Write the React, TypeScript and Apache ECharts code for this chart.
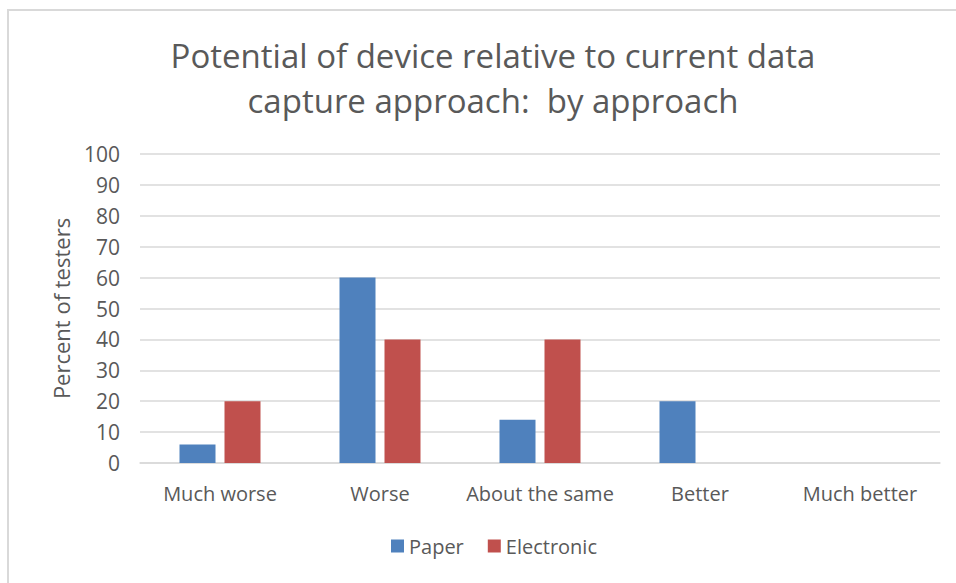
import React, { useEffect, useRef } from "react";
import * as echarts from "echarts";

const categories = ["Much worse", "Worse", "About the same", "Better", "Much better"];
const paper = [6, 60, 14, 20, 0];
const electronic = [20, 40, 40, 0, 0];
const titleText = "Potential of device relative to current data\ncapture approach:  by approach";
const yAxisName = "Percent of testers";

export default function App() {
  const ref = useRef<HTMLDivElement>(null);
  useEffect(() => {
    const chart = echarts.init(ref.current!, null, { renderer: "svg" });
    const font = "'Open Sans', 'Noto Sans', sans-serif";
    chart.setOption({
      animation: false,
      backgroundColor: "#ffffff",
      textStyle: { fontFamily: font },
      title: {
        text: titleText,
        left: 488,
        textAlign: "center",
        top: 28,
        textStyle: { fontFamily: font, fontSize: 33, fontWeight: "normal", color: "#595959", lineHeight: 45 },
      },
      legend: {
        bottom: 22,
        left: 386,
        itemWidth: 13,
        itemHeight: 13,
        itemGap: 24,
        icon: "rect",
        textStyle: { fontFamily: font, fontSize: 20, color: "#595959" },
        data: ["Paper", "Electronic"],
      },
      grid: { left: 140, right: 16, top: 154, bottom: 120, containLabel: false },
      xAxis: {
        type: "category",
        data: categories,
        axisLine: { lineStyle: { color: "#d9d9d9", width: 1.5 } },
        axisTick: { show: false },
        axisLabel: { fontFamily: font, fontSize: 20, color: "#595959", margin: 20, interval: 0 },
      },
      yAxis: {
        type: "value",
        min: 0,
        max: 100,
        interval: 10,
        name: yAxisName,
        nameLocation: "middle",
        nameGap: 68,
        nameTextStyle: { fontFamily: font, fontSize: 22, color: "#595959" },
        axisLine: { show: false },
        axisTick: { show: false },
        axisLabel: { fontFamily: font, fontSize: 21, color: "#595959", margin: 20 },
        splitLine: { lineStyle: { color: "#d9d9d9", width: 1.5 } },
      },
      series: [
        {
          name: "Paper",
          type: "bar",
          data: paper,
          barWidth: 36,
          barGap: "25%",
          itemStyle: { color: "#4F81BD" },
        },
        {
          name: "Electronic",
          type: "bar",
          data: electronic,
          barWidth: 36,
          itemStyle: { color: "#C0504D" },
        },
      ],
      graphic: [
        { type: "line", shape: { x1: 7, y1: 10, x2: 956, y2: 10 }, style: { stroke: "#d9d9d9", lineWidth: 2 } },
        { type: "line", shape: { x1: 8, y1: 10, x2: 8, y2: 583 }, style: { stroke: "#d9d9d9", lineWidth: 2 } },
      ],
    });
    return () => chart.dispose();
  }, []);
  return <div ref={ref} style={{ position: "fixed", left: 0, top: 0, width: 956, height: 583 }} />;
}
